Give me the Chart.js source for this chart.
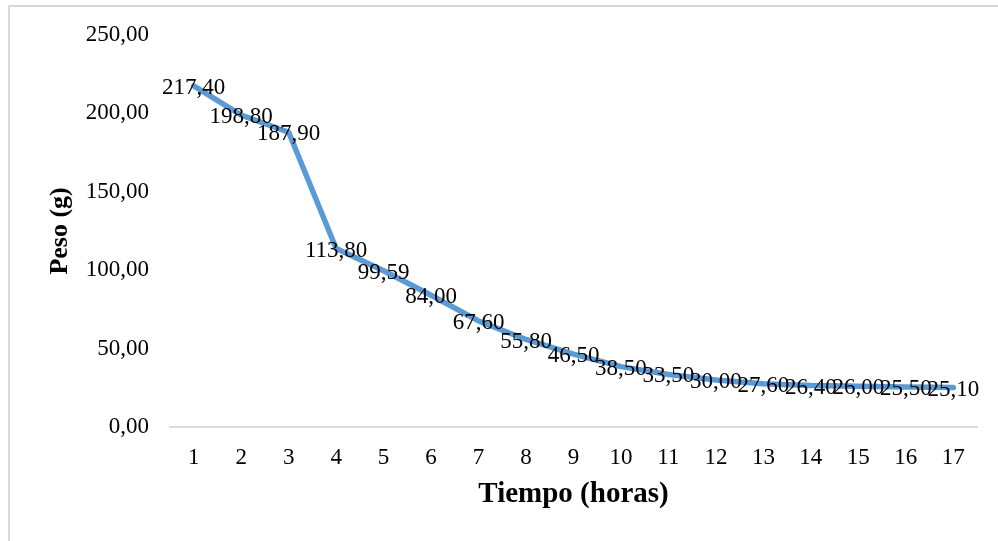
<!DOCTYPE html>
<html>
<head>
<meta charset="utf-8">
<title>Peso vs Tiempo</title>
<script src="https://cdn.jsdelivr.net/npm/chart.js@4/dist/chart.umd.min.js"></script>
<style>
    html, body { margin: 0; padding: 0; background: #fff; }
    #wrap { position: relative; width: 998px; height: 541px; overflow: hidden; }
    #frame {
        position: absolute; left: 8px; top: 5px; width: 1000px; height: 600px;
        border-left: 2px solid #d9d9d9; border-top: 2px solid #d9d9d9;
    }
    #chart { position: absolute; left: 0; top: 0; }
</style>
</head>
<body>
<div id="wrap">
    <div id="frame"></div>
    <canvas id="chart" width="998" height="541"></canvas>
</div>
<script>
// data
const horas = ['1', '2', '3', '4', '5', '6', '7', '8', '9', '10', '11', '12', '13', '14', '15', '16', '17'];
const peso = [217.40, 198.80, 187.90, 113.80, 99.59, 84.00, 67.60, 55.80, 46.50, 38.50, 33.50, 30.00, 27.60, 26.40, 26.00, 25.50, 25.10];
const yTicks = [0, 50, 100, 150, 200, 250];

const serif = '"Liberation Serif", "Times New Roman", serif';

function fmt(v) {
    return Number(v).toFixed(2).replace('.', ',');
}

// draws the value centred on each point
const valueLabels = {
    id: 'valueLabels',
    afterDatasetsDraw(chart) {
        const ctx = chart.ctx;
        const meta = chart.getDatasetMeta(0);
        ctx.save();
        ctx.font = '23px ' + serif;
        ctx.fillStyle = '#000';
        ctx.textAlign = 'center';
        ctx.textBaseline = 'middle';
        meta.data.forEach(function(pt, i) {
            ctx.fillText(fmt(peso[i]), pt.x, pt.y + 2);
        });
        ctx.restore();
    }
};

const ctx = document.getElementById('chart').getContext('2d');
const pesoChart = new Chart(ctx, {
    type: 'line',
    data: {
        labels: horas,
        datasets: [{
            label: 'Peso',
            data: peso,
            borderColor: '#5b9bd5',
            borderWidth: 5.5,
            borderCapStyle: 'round',
            borderJoinStyle: 'round',
            pointRadius: 0,
            tension: 0,
            fill: false
        }]
    },
    options: {
        responsive: false,
        animation: false,
        devicePixelRatio: 1,
        layout: { padding: { left: 0, right: 21, top: 33, bottom: 0 } },
        plugins: {
            legend: { display: false },
            tooltip: { enabled: false }
        },
        scales: {
            x: {
                offset: true,
                grid: { display: false, drawTicks: false },
                border: { display: true, color: '#d9d9d9', width: 2 },
                ticks: {
                    color: '#000',
                    font: { family: serif, size: 23 },
                    padding: 17,
                    maxRotation: 0,
                    autoSkip: false
                },
                title: {
                    display: true,
                    text: 'Tiempo (horas)',
                    color: '#000',
                    font: { family: serif, size: 29, weight: 'bold' },
                    padding: { top: 0, bottom: 29 }
                },
                afterFit: function(s) { s.height = 114; }
            },
            y: {
                min: 0,
                max: 250,
                grid: { display: false, drawTicks: false },
                border: { display: false },
                afterBuildTicks: function(s) {
                    s.ticks = yTicks.map(v => ({ value: v }));
                },
                ticks: {
                    color: '#000',
                    font: { family: serif, size: 23 },
                    padding: 21,
                    callback: function(v) { return fmt(v); }
                },
                title: {
                    display: true,
                    text: 'Peso (g)',
                    color: '#000',
                    font: { family: serif, size: 26, weight: 'bold' },
                    padding: { top: 45, bottom: 0 }
                },
                afterFit: function(s) { s.width = 170; }
            }
        }
    },
    plugins: [valueLabels]
});
</script>
</body>
</html>
